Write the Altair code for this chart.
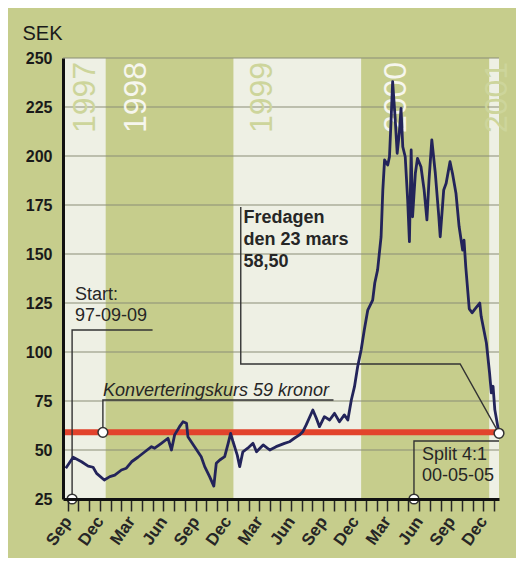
import altair as alt
import pandas as pd

# ---------------- data ----------------
dates = [
    "1997-09-09", "1997-09-30", "1997-10-24", "1997-11-12", "1997-11-26", "1997-12-06",
    "1997-12-28", "1998-01-13", "1998-01-27", "1998-02-15", "1998-03-01", "1998-03-16",
    "1998-04-03", "1998-04-23", "1998-05-12", "1998-05-21", "1998-06-09", "1998-06-28",
    "1998-07-08", "1998-07-17", "1998-07-31", "1998-08-10", "1998-08-20", "1998-08-24",
    "1998-09-12", "1998-10-01", "1998-10-11", "1998-10-25", "1998-11-06", "1998-11-13",
    "1998-11-23", "1998-12-07", "1998-12-17", "1998-12-24", "1998-12-31", "1999-01-12",
    "1999-01-19", "1999-01-28", "1999-02-11", "1999-02-26", "1999-03-08", "1999-03-27",
    "1999-04-15", "1999-05-03", "1999-05-27", "1999-06-10", "1999-06-24", "1999-07-09",
    "1999-07-18", "1999-07-28", "1999-08-16", "1999-08-26", "1999-09-04", "1999-09-18",
    "1999-10-03", "1999-10-17", "1999-10-31", "1999-11-14", "1999-11-24", "1999-12-04",
    "1999-12-13", "1999-12-22", "2000-01-01", "2000-01-10", "2000-01-20", "2000-02-03",
    "2000-02-09", "2000-02-17", "2000-02-27", "2000-03-03", "2000-03-08", "2000-03-17",
    "2000-03-22", "2000-03-27", "2000-03-31", "2000-04-07", "2000-04-13", "2000-04-19",
    "2000-04-24", "2000-04-29", "2000-05-06", "2000-05-13", "2000-05-18", "2000-05-23",
    "2000-05-27", "2000-06-04", "2000-06-10", "2000-06-20", "2000-06-29", "2000-07-07",
    "2000-07-13", "2000-07-21", "2000-07-31", "2000-08-10", "2000-08-14", "2000-08-24",
    "2000-08-31", "2000-09-11", "2000-09-18", "2000-09-28", "2000-10-07", "2000-10-17",
    "2000-10-21", "2000-10-26", "2000-11-05", "2000-11-13", "2000-11-20", "2000-12-05",
    "2000-12-09", "2000-12-24", "2001-01-02", "2001-01-07", "2001-01-12", "2001-01-17",
    "2001-01-29",
]
prices = [
    40.7, 46.3, 44.0, 41.8, 41.2, 38.1,
    34.7, 36.4, 37.2, 39.8, 40.7, 44.0,
    46.3, 49.1, 51.7, 50.9, 53.4, 56.0,
    50.0, 57.7, 61.9, 64.4, 63.6, 56.8,
    51.7, 46.6, 41.5, 36.4, 31.6, 43.2,
    44.9, 46.6, 53.4, 58.5, 54.2, 47.4,
    41.5, 49.1, 50.9, 53.4, 49.1, 52.6,
    50.0, 51.7, 53.4, 54.2, 56.0, 57.7,
    59.3, 62.8, 70.4, 66.2, 61.9, 67.0,
    65.3, 68.7, 64.4, 67.9, 65.3, 75.5,
    82.3, 92.5, 101.0, 111.2, 121.4, 126.5,
    135.2, 141.8, 158.8, 182.7, 198.0, 195.4,
    199.6, 220.0, 237.9, 220.0, 201.4, 211.6,
    224.3, 204.7, 199.6, 177.6, 156.3, 203.1,
    169.0, 191.2, 198.8, 194.5, 182.7, 167.4,
    187.8, 208.2, 191.2, 169.0, 158.8, 182.7,
    186.1, 197.1, 191.2, 181.0, 164.0, 152.0,
    157.1, 143.5, 122.0, 120.0, 121.6, 125.0,
    118.2, 104.6, 89.3, 79.1, 82.5, 70.6,
    58.5,
]

x_start = "1997-09-01"
x_end = "2001-01-29"
y_min, y_max = 25, 250
y_ticks = [25, 50, 75, 100, 125, 150, 175, 200, 225, 250]
grid_levels = [50, 75, 100, 125, 150, 175, 200, 225, 250]

conversion_price = 59

# white year bands (the others show the green background)
band_start = ["1997-09-01", "1999-01-01", "2001-01-01"]
band_end = ["1998-01-01", "2000-01-01", "2001-01-29"]

year_labels = ["1997", "1998", "1999", "2000", "2001"]
year_label_dates = ["1997-11-02", "1998-03-28", "1999-03-23", "2000-04-11", "2001-01-22"]
year_label_on_white = [True, False, True, False, True]
year_label_top = 248

# annotation leader lines (date, price)
leader_group = ["start"] * 3 + ["konv"] * 3 + ["fred"] * 4 + ["split"] * 3
leader_date = ["1997-09-27", "1997-09-27", "1998-05-15",
               "1997-12-24", "1997-12-24", "1999-10-14",
               "1999-01-22", "1999-01-22", "2000-10-10", "2001-01-29",
               "2000-05-31", "2000-05-31", "2001-01-29"]
leader_value = [25, 111.2, 111.2,
                59, 75.5, 75.5,
                174.0, 93.9, 93.9, 58.5,
                25, 54.6, 54.6]
leader_order = [0, 1, 2, 0, 1, 2, 0, 1, 2, 3, 0, 1, 2]

marker_date = ["1997-09-27", "1997-12-24", "2000-05-31", "2001-01-29"]
marker_value = [25, 59, 25, 58.5]

# ---------------- styling ----------------
GREEN = "#c6cd8c"
WHITE_BAND = "#eef0e4"
LINE = "#23245a"
RED = "#e2432c"
INK = "#262626"
FONT = "Liberation Sans"

W, H = 436, 441

xscale = alt.Scale(type="utc", domain=[x_start, x_end])
yscale = alt.Scale(domain=[y_min, y_max], nice=False, zero=False)

tick_values = []
for yr, mo in [(1997, m) for m in range(9, 13)] + [(y, m) for y in (1998, 1999, 2000) for m in range(1, 13)] + [(2001, 1)]:
    tick_values.append(alt.DateTime(year=yr, month=mo, date=15, utc=True))

x_axis = alt.Axis(
    values=tick_values,
    labelExpr="indexof(['03','06','09','12'], utcFormat(datum.value, '%m')) >= 0 ? utcFormat(datum.value, '%b') : ''",
    labelAngle=305, labelAlign="right", labelBaseline="middle",
    labelFont=FONT, labelFontSize=17, labelFontWeight="bold", labelColor=INK,
    labelPadding=7, tickSize=12, tickWidth=1.5, tickColor=INK,
    domainColor="#111111", domainWidth=3, grid=False, title=None, zindex=1,
    labelOverlap=False,
)
y_axis = alt.Axis(
    values=y_ticks, ticks=False, labelPadding=11,
    labelFont=FONT, labelFontSize=16, labelFontWeight="bold", labelColor="#1a1a1a",
    domainColor="#111111", domainWidth=3, grid=False,
    title="SEK", titleAngle=0, titleAlign="left", titleBaseline="alphabetic",
    titleX=-41, titleY=-19, titleFont=FONT, titleFontSize=20,
    titleFontWeight="normal", titleColor="#1a1a1a", zindex=1,
)

X = lambda f: alt.X(f"{f}:T", scale=xscale, axis=x_axis)
Y = lambda f: alt.Y(f"{f}:Q", scale=yscale, axis=y_axis)

bands = pd.DataFrame({"s": band_start, "e": band_end, "lo": y_min, "hi": y_max})
band_layer = alt.Chart(bands).mark_rect(color=WHITE_BAND).encode(
    x=X("s"), x2="e:T", y=Y("lo"), y2="hi:Q")

grid = pd.DataFrame({"v": grid_levels, "s": x_start, "e": x_end})
grid_layer = alt.Chart(grid).mark_rule(color="#8a8d76", strokeWidth=1).encode(
    x=X("s"), x2="e:T", y=Y("v"))

years = pd.DataFrame({"t": year_labels, "d": year_label_dates,
                      "c": ["#cdd59b" if w else "#f6f6ee" for w in year_label_on_white],
                      "v": year_label_top})
year_layer = alt.Chart(years).mark_text(
    angle=270, align="right", baseline="middle", font=FONT, fontSize=32).encode(
    x=X("d"), y=Y("v"), text="t:N", color=alt.Color("c:N", scale=None))

conv = pd.DataFrame({"v": [conversion_price], "s": [x_start], "e": [x_end]})
conv_layer = alt.Chart(conv).mark_rule(color=RED, strokeWidth=6).encode(
    x=X("s"), x2="e:T", y=Y("v"))

leaders = pd.DataFrame({"g": leader_group, "d": leader_date, "v": leader_value, "o": leader_order})
leader_layer = alt.Chart(leaders).mark_line(color="#333333", strokeWidth=1.4).encode(
    x=X("d"), y=Y("v"), detail="g:N", order="o:Q")

price_df = pd.DataFrame({"d": dates, "p": prices})
price_layer = alt.Chart(price_df).mark_line(color=LINE, strokeWidth=2.8, strokeJoin="round").encode(
    x=X("d"), y=Y("p"))

markers = pd.DataFrame({"d": marker_date, "v": marker_value})
marker_layer = alt.Chart(markers).mark_point(
    shape="circle", filled=True, fill="white", stroke="#333333", strokeWidth=1.5,
    size=95, opacity=1).encode(x=X("d"), y=Y("v"))


def label(text, d, v, weight="normal", style="normal", lh=21):
    df = pd.DataFrame({"t": [text], "d": [d], "v": [v]})
    return alt.Chart(df).mark_text(
        align="left", baseline="alphabetic", font=FONT, fontSize=18,
        fontWeight=weight, fontStyle=style, color=INK, lineBreak="\n",
        lineHeight=lh).encode(x=X("d"), y=Y("v"), text="t:N")


start_text = label("Start:\n97-09-09", "1997-10-05", 126.5)
fred_text = label("Fredagen\nden 23 mars\n58,50", "1999-01-30", 165.8, weight="bold", lh=22)
konv_text = label("Konverteringskurs 59 kronor", "1997-12-24", 77.6, style="italic")
split_text = label("Split 4:1\n00-05-05", "2000-06-23", 44.9)

chart = alt.layer(
    band_layer, grid_layer, year_layer, conv_layer, leader_layer, price_layer,
    marker_layer, start_text, fred_text, konv_text, split_text,
).properties(
    width=W, height=H, background=GREEN,
    autosize=alt.AutoSizeParams(type="none"),
    padding={"left": 55, "top": 50, "right": 17, "bottom": 59},
).configure_view(stroke=None)

chart.save("out.html", embed_options={"renderer": "svg", "actions": False})
